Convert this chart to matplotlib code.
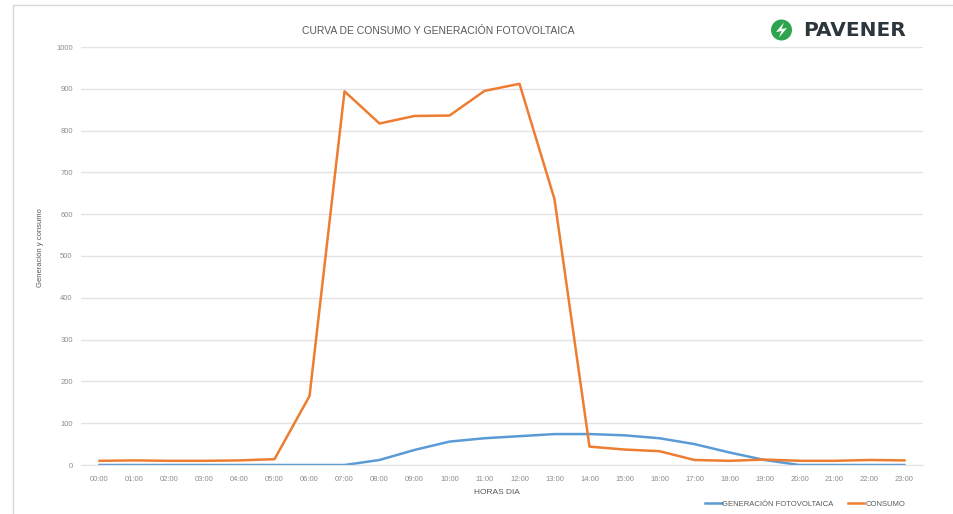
import numpy as np
import matplotlib.pyplot as plt
from matplotlib.patches import Ellipse, Polygon
from matplotlib.lines import Line2D

# Data
horas = ["00:00", "01:00", "02:00", "03:00", "04:00", "05:00", "06:00", "07:00",
         "08:00", "09:00", "10:00", "11:00", "12:00", "13:00", "14:00", "15:00",
         "16:00", "17:00", "18:00", "19:00", "20:00", "21:00", "22:00", "23:00"]
generacion = [0, 0, 0, 0, 0, 0, 0, 0, 12, 36, 56, 64, 69, 74, 74, 71,
              64, 50, 30, 12, 0, 0, 0, 0]
consumo = [10, 11, 10, 10, 11, 14, 165, 894, 817, 835, 836, 895, 912, 636,
           44, 37, 33, 12, 10, 13, 10, 10, 12, 11]

plt.rcParams['font.family'] = ['Liberation Sans', 'DejaVu Sans']

fig = plt.figure(figsize=(9.54, 5.14), dpi=100)
W, H = 954, 514

# outer chart frame (cropped screenshot): left and top edges only
fig.lines.append(Line2D([13 / W, 13 / W], [0, 1 - 5 / H], transform=fig.transFigure,
                        color='#d9d9d9', linewidth=1))
fig.lines.append(Line2D([13 / W, 1], [1 - 5 / H, 1 - 5 / H], transform=fig.transFigure,
                        color='#d9d9d9', linewidth=1))

ax = fig.add_axes([81 / W, 1 - 465 / H, (923 - 81) / W, (465 - 47) / H])
x = np.arange(len(horas))
ax.plot(x, generacion, color='#5b9bd5', linewidth=1.8, label='GENERACIÓN FOTOVOLTAICA')
ax.plot(x, consumo, color='#ed7d31', linewidth=1.8, label='CONSUMO')

ax.set_xlim(-0.53, len(horas) - 0.47)
ax.set_ylim(0, 1000)
ax.set_yticks(range(0, 1001, 100))
ax.set_xticks(x)
ax.set_xticklabels(horas)
ax.tick_params(length=0, labelsize=5.5, colors='#8c8c8c', pad=8)
ax.tick_params(axis='y', pad=6)
ax.grid(axis='y', color='#e3e3e3', linewidth=1)
ax.set_axisbelow(True)
for s in ax.spines.values():
    s.set_visible(False)
ax.spines['bottom'].set_visible(True)
ax.spines['bottom'].set_color('#e3e3e3')

fig.text(40 / W, 1 - 248 / H, 'Generación y consumo', rotation=90, ha='center', va='center',
         fontsize=5.5, color='#595959')
fig.text(497 / W, 1 - 493 / H, 'HORAS DIA', ha='center', va='center', fontsize=6, color='#595959')
fig.text(438 / W, 1 - 31 / H, 'CURVA DE CONSUMO Y GENERACIÓN FOTOVOLTAICA', ha='center', va='center',
         fontsize=7.5, color='#595959')

leg = ax.legend(loc='center', bbox_to_anchor=(805 / W, 1 - 504 / H), bbox_transform=fig.transFigure,
                ncol=2, frameon=False, fontsize=5.5, handlelength=2.2, handletextpad=0.1,
                columnspacing=1.8, labelcolor='#595959')

# logo
fig.patches.append(Ellipse((781.5 / W, 1 - 30 / H), 21 / W, 21 / H, transform=fig.transFigure,
                           facecolor='#2ea44f', edgecolor='none'))
fig.patches.append(Polygon([(784 / W, 1 - 22.5 / H), (776 / W, 1 - 32 / H), (781.5 / W, 1 - 31 / H),
                            (779 / W, 1 - 37.5 / H), (787 / W, 1 - 28 / H), (781.5 / W, 1 - 29 / H)],
                           closed=True, transform=fig.transFigure, facecolor='white', edgecolor='none'))
fig.text(803 / W, 1 - 31 / H, 'PAVENER', ha='left', va='center', fontsize=14.5,
         fontweight='bold', color='#2b363d', family='DejaVu Sans')

fig.savefig('out.png', dpi=100)
